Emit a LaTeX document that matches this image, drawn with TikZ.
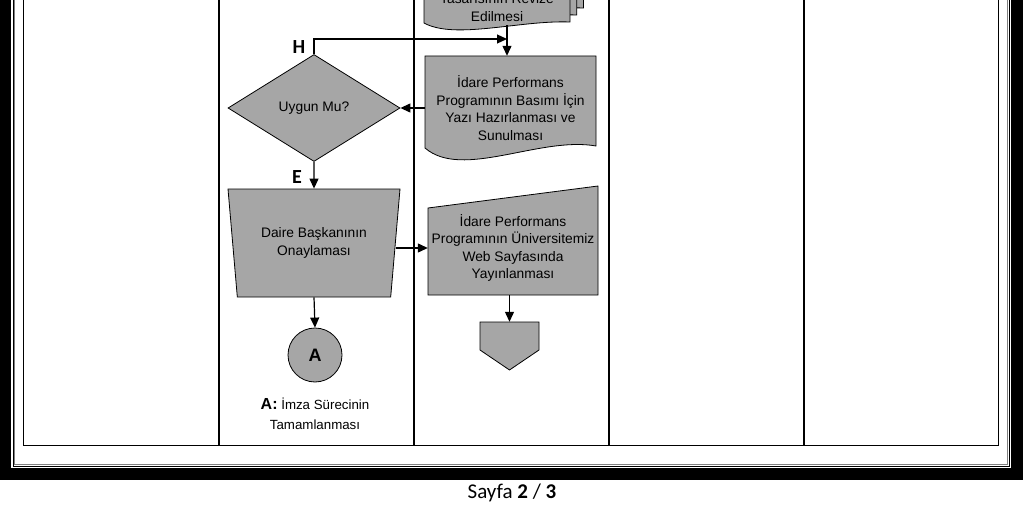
\documentclass[tikz,border=0pt]{standalone}
\usepackage{fontspec}
\setmainfont{Liberation Sans}
\newfontfamily\calibrifont{Carlito}
\usetikzlibrary{arrows.meta,shapes.geometric}
\definecolor{boxgray}{RGB}{166,166,166}

\begin{document}
\begin{tikzpicture}[x=1pt, y=-1pt,
  flowtext/.style={align=center, inner sep=0pt, font=\fontsize{13.8}{17.6}\selectfont},
  shapefill/.style={draw, fill=boxgray, line width=0.8pt},
  decision/.style={diamond, shapefill, aspect=1.6, minimum width=172pt,
    minimum height=107pt, flowtext},
  approve/.style={trapezium, shapefill, trapezium angle=73, shape border rotate=180,
    trapezium stretches body, minimum width=172pt, minimum height=108pt, flowtext},
  endpoint/.style={circle, shapefill, minimum size=54pt, inner sep=0pt,
    font=\bfseries\fontsize{18}{20}\selectfont},
  branch/.style={inner sep=0pt, font=\calibrifont\bfseries\fontsize{20}{22}\selectfont},
  arr/.style={-{Triangle[length=10pt,width=9pt]}, line width=1.2pt},
  rule/.style={line width=1.3pt}
]
\useasboundingbox (0,0) rectangle (1023,508);

% Page border
\fill (0,0) rectangle (11,480);
\fill (1011,0) rectangle (1023,480);
\fill (0,468) rectangle (1023,480);
\draw[line width=1pt] (13,0) -- (13,466) -- (1009.5,466) -- (1009.5,0);
\draw[line width=1pt, gray] (14.8,0) -- (14.8,464) -- (1007.7,464) -- (1007.7,0);

% Table
\draw[rule] (23.5,0) -- (23.5,445.5) -- (998.5,445.5) -- (998.5,0);
\draw[rule] (219,0) -- (219,445.5) (414,0) -- (414,445.5)
  (609,0) -- (609,445.5) (804,0) -- (804,445.5);

% Multi-document (top)
\draw[shapefill] (437.5,-60) -- (583.5,-60) -- (583.5,8)
  .. controls (533.5,6) and (468.5,26) .. (437.5,9) -- cycle;
\draw[shapefill] (430.8,-50) -- (576.8,-50) -- (576.8,15)
  .. controls (526.8,13) and (461.8,33) .. (430.8,16) -- cycle;
\draw[shapefill] (424,-40) -- (570,-40) -- (570,22)
  .. controls (520,20) and (455,40) .. (424,23) -- cycle;
\node[flowtext] (revize) at (497,7.5) {Tasarısının Revize\\Edilmesi};
\coordinate (revizeout) at (507,25.5);
\coordinate (hjoin) at (507,39);

% Document
\draw[shapefill] (425,56) -- (596,56) -- (596,146)
  .. controls (540,136) and (462,180) .. (425,148) -- cycle;
\node[flowtext, minimum width=171pt, minimum height=104pt] (basim) at (510.5,108)
  {İdare Performans\\Programının Basımı İçin\\Yazı Hazırlanması ve\\Sunulması};

% Manual input
\draw[shapefill] (428,208) -- (598,186) -- (598,295) -- (428,295) -- cycle;
\node[flowtext, minimum width=170pt, minimum height=94pt] (web) at (513,248)
  {İdare Performans\\Programının Üniversitemiz\\Web Sayfasında\\Yayınlanması};

% Off-page reference
\draw[shapefill] (480,322) -- (539,322) -- (539,350) -- (509.5,370) -- (480,350) -- cycle;
\node[minimum width=59pt, minimum height=48pt, inner sep=0pt] (sayfaref) at (509.5,346) {};

% Decision and approval
\node[decision] (uygun) at (314,108) {Uygun Mu?};
\node[approve] (onay) at (314,243) {Daire Başkanının\\Onaylaması};
\node[endpoint] (imza) at (315,355) {A};
\node[align=center, inner sep=0pt, font=\fontsize{13.3}{20}\selectfont] (aciklama) at (315,414)
  {{\bfseries\fontsize{16}{20}\selectfont A:} İmza Sürecinin\\Tamamlanması};

\node[branch] (hlabel) at (299,47) {H};
\node[branch] (elabel) at (297,177) {E};

% Connectors
\draw[arr] (revizeout) -- (revizeout |- basim.north);
\draw[arr] (uygun.north) |- (hjoin);
\draw[arr] (basim.west) -- (uygun.east);
\draw[arr] (uygun.south) -- (onay.north);
\draw[arr] (web.west -| onay.east) -- (web.west);
\draw[arr] (onay.south) -- (imza.north);
\draw[arr] (sayfaref.north |- web.south) -- (sayfaref.north);

% Footer
\node[font=\calibrifont\fontsize{21}{24}\selectfont] (sayfa) at (512,493)
  {Sayfa \textbf{2} / \textbf{3}};
\end{tikzpicture}
\end{document}
